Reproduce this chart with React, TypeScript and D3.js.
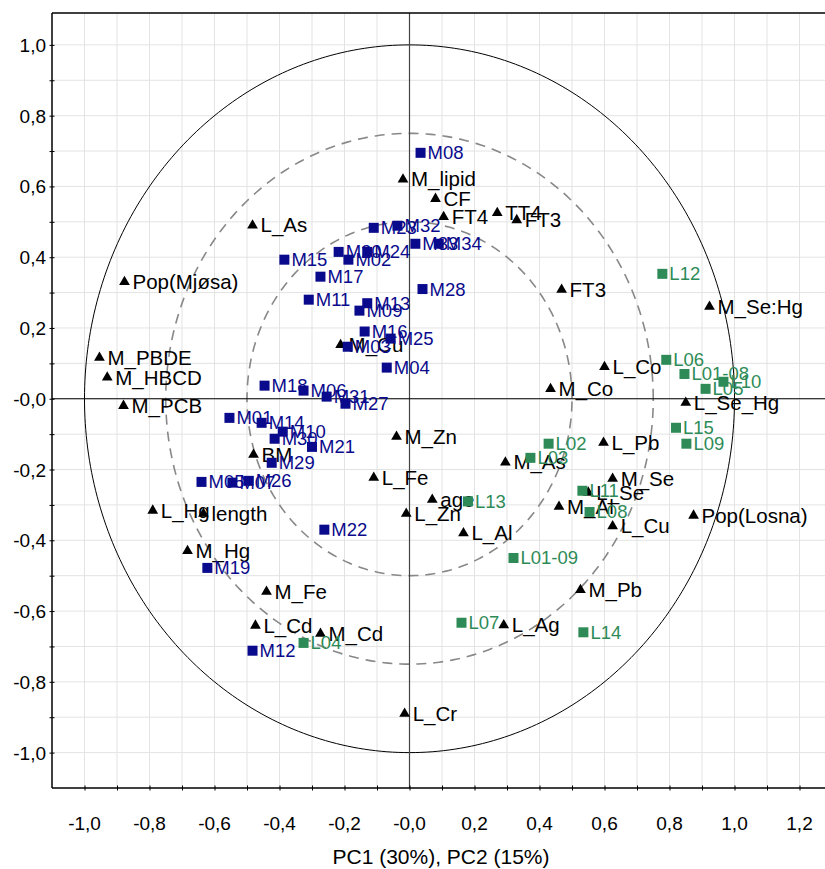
import * as d3 from 'd3';
import { useEffect, useRef } from "react";

// variables (loadings), drawn as black triangles
const varNames = ["M_lipid", "CF", "FT4", "TT4", "FT3", "FT3", "L_As", "Pop(Mjøsa)", "M_PBDE", "M_HBCD", "M_PCB",
    "M_Cu", "M_Zn", "L_Fe", "age", "L_Zn", "L_Al", "M_As", "L_Co", "M_Co", "M_Se:Hg", "L_Se_Hg", "L_Pb", "M_Se",
    "L_Se", "M_Al", "L_Cu", "Pop(Losna)", "M_Pb", "L_Ag", "L_Cr", "M_Cd", "L_Cd", "M_Fe", "M_Hg", "L_Hg", "length", "BM"];
const varX = [-0.02, 0.08, 0.105, 0.27, 0.33, 0.468, -0.483, -0.877, -0.954, -0.93, -0.88,
    -0.212, -0.04, -0.11, 0.07, -0.01, 0.166, 0.295, 0.6, 0.434, 0.923, 0.85, 0.597, 0.625,
    0.55, 0.46, 0.625, 0.874, 0.526, 0.29, -0.015, -0.274, -0.474, -0.44, -0.683, -0.79, -0.634, -0.48];
const varY = [0.62, 0.565, 0.514, 0.525, 0.505, 0.308, 0.49, 0.33, 0.116, 0.06, -0.02,
    0.152, -0.107, -0.223, -0.285, -0.325, -0.38, -0.18, 0.09, 0.028, 0.26, -0.011, -0.124, -0.226,
    -0.265, -0.305, -0.36, -0.33, -0.54, -0.64, -0.89, -0.664, -0.641, -0.545, -0.43, -0.316, -0.325, -0.158];

// M samples (navy squares)
const mNames = ["M08", "M23", "M32", "M20", "M24", "M02", "M15", "M17", "M11", "M13", "M09", "M33", "M34", "M28",
    "M16", "M25", "M03", "M04", "M18", "M06", "M31", "M27", "M01", "M14", "M10", "M30", "M21", "M29",
    "M05", "M07", "M26", "M22", "M19", "M12"];
const mX = [0.034, -0.11, -0.037, -0.218, -0.13, -0.188, -0.385, -0.274, -0.31, -0.13, -0.154, 0.018, 0.09, 0.04,
    -0.138, -0.058, -0.19, -0.07, -0.446, -0.326, -0.255, -0.197, -0.554, -0.455, -0.39, -0.415, -0.3, -0.424,
    -0.64, -0.545, -0.495, -0.262, -0.622, -0.483];
const mY = [0.695, 0.483, 0.489, 0.415, 0.415, 0.393, 0.393, 0.345, 0.28, 0.27, 0.249, 0.438, 0.438, 0.31,
    0.19, 0.17, 0.147, 0.088, 0.037, 0.023, 0.006, -0.014, -0.054, -0.068, -0.093, -0.113, -0.136, -0.181,
    -0.235, -0.237, -0.232, -0.37, -0.478, -0.712];

// L samples (green squares)
const lNames = ["L12", "L06", "L01-08", "L10", "L05", "L15", "L09", "L02", "L03", "L13", "L11", "L08", "L01-09",
    "L07", "L14", "L04"];
const lX = [0.778, 0.79, 0.846, 0.966, 0.911, 0.82, 0.852, 0.428, 0.372, 0.18, 0.532, 0.554, 0.32, 0.16, 0.535, -0.326];
const lY = [0.353, 0.11, 0.07, 0.048, 0.028, -0.082, -0.127, -0.127, -0.167, -0.29, -0.26, -0.32, -0.45, -0.633, -0.66, -0.69];

const circleRadii = [1, 0.75, 0.5];

const fmt = (v: number) => {
    const s = Math.abs(v) < 1e-9 ? "-0,0" : d3.format(".1f")(v).replace("−", "-");
    return s.replace(".", ",");
};

export default function App() {
    const ref = useRef<SVGSVGElement>(null);

    useEffect(() => {
        const width = 825;
        const svg = d3.select(ref.current!);
        svg.selectAll("*").remove();

        const x = d3.scaleLinear([-1.1, 1.3], [52, 832]);
        const y = d3.scaleLinear([-1.1, 1.1], [788, 9.5]);
        const font = "'Liberation Sans', Arial, sans-serif";

        const [x0, x1] = [x(-1.1), width];
        const [y0, y1] = [y(1.09), y(-1.1)];

        const grid = d3.range(-11, 14).map(i => i / 10);
        svg.append("g").selectAll("line").data(grid.filter(v => v > -1.1 && v < 1.3)).join("line")
            .attr("x1", d => x(d)).attr("x2", d => x(d)).attr("y1", y0).attr("y2", y1)
            .attr("stroke", "#e3e3e3").attr("stroke-width", 1);
        svg.append("g").selectAll("line").data(grid.filter(v => v > -1.1 && v < 1.09)).join("line")
            .attr("x1", x0).attr("x2", x1).attr("y1", d => y(d)).attr("y2", d => y(d))
            .attr("stroke", "#e3e3e3").attr("stroke-width", 1);

        // correlation circles
        const angles = d3.range(0, 361).map(a => a * Math.PI / 180);
        circleRadii.forEach(r => {
            const path = d3.line<number>().x(t => x(r * Math.cos(t))).y(t => y(r * Math.sin(t)));
            svg.append("path")
                .attr("d", path(angles))
                .attr("fill", "none")
                .attr("stroke", r === 1 ? "#000" : "#888")
                .attr("stroke-width", r === 1 ? 1 : 1.6)
                .attr("stroke-dasharray", r === 1 ? null : "10,7");
        });

        // zero lines
        svg.append("line").attr("x1", x(0)).attr("x2", x(0)).attr("y1", y0).attr("y2", y1)
            .attr("stroke", "#444").attr("stroke-width", 1.2);
        svg.append("line").attr("x1", x0).attr("x2", x1).attr("y1", y(0)).attr("y2", y(0))
            .attr("stroke", "#000").attr("stroke-width", 1);

        // frame
        svg.append("line").attr("x1", x0).attr("x2", x1).attr("y1", y0).attr("y2", y0).attr("stroke", "#000").attr("stroke-width", 1.5);
        svg.append("line").attr("x1", x0).attr("x2", x1).attr("y1", y1).attr("y2", y1).attr("stroke", "#000").attr("stroke-width", 1.5);
        svg.append("line").attr("x1", x0).attr("x2", x0).attr("y1", y0).attr("y2", y1).attr("stroke", "#000").attr("stroke-width", 1.5);

        // axes
        const xAxis = d3.axisBottom(x).tickValues(d3.range(-10, 13).map(i => i / 10)).tickSize(5).tickFormat(() => "");
        svg.append("g").attr("transform", `translate(0,${y1 - 2.5})`).call(xAxis)
            .call(g => g.select(".domain").remove())
            .selectAll("line").attr("stroke", "#000");
        const yAxis = d3.axisLeft(y).tickValues(d3.range(-10, 11).map(i => i / 10)).tickSize(5).tickFormat(() => "");
        svg.append("g").attr("transform", `translate(${x0 + 2.5},0)`).call(yAxis)
            .call(g => g.select(".domain").remove())
            .selectAll("line").attr("stroke", "#000");

        const xLabels = d3.range(-5, 7).map(i => i / 5);
        svg.append("g").selectAll("text").data(xLabels).join("text")
            .attr("x", d => x(d)).attr("y", 830)
            .attr("text-anchor", "middle").attr("font-family", font).attr("font-size", 19)
            .text(d => fmt(d));
        const yLabels = d3.range(-5, 6).map(i => i / 5);
        svg.append("g").selectAll("text").data(yLabels).join("text")
            .attr("x", 46).attr("y", d => y(d) + 7)
            .attr("text-anchor", "end").attr("font-family", font).attr("font-size", 19)
            .text(d => fmt(d));

        svg.append("text").attr("x", 441).attr("y", 864).attr("text-anchor", "middle")
            .attr("font-family", font).attr("font-size", 21).text("PC1 (30%), PC2 (15%)");

        // markers
        const tri = d3.symbol(d3.symbolTriangle, 50);
        const vars = varNames.map((n, i) => ({ n, x: varX[i], y: varY[i] }));
        const gv = svg.append("g").selectAll("g").data(vars).join("g")
            .attr("transform", d => `translate(${x(d.x)},${y(d.y)})`);
        gv.append("path").attr("d", tri()).attr("fill", "#000");
        gv.append("text").attr("x", 8).attr("y", 7).attr("font-family", font).attr("font-size", 20.5)
            .attr("fill", "#000").text(d => d.n);

        const drawSamples = (names: string[], xs: number[], ys: number[], color: string) => {
            const data = names.map((n, i) => ({ n, x: xs[i], y: ys[i] }));
            const g = svg.append("g").selectAll("g").data(data).join("g")
                .attr("transform", d => `translate(${x(d.x)},${y(d.y)})`);
            g.append("rect").attr("x", -5).attr("y", -5).attr("width", 10).attr("height", 10).attr("fill", color);
            g.append("text").attr("x", 7).attr("y", 6.5).attr("font-family", font).attr("font-size", 18.5)
                .attr("fill", color).text(d => d.n);
        };
        drawSamples(mNames, mX, mY, "#0a0a8c");
        drawSamples(lNames, lX, lY, "#2e8b57");
    }, []);

    return <svg ref={ref} width={825} height={869}
        style={{ position: "absolute", left: 0, top: 0, background: "#fff" }} />;
}
